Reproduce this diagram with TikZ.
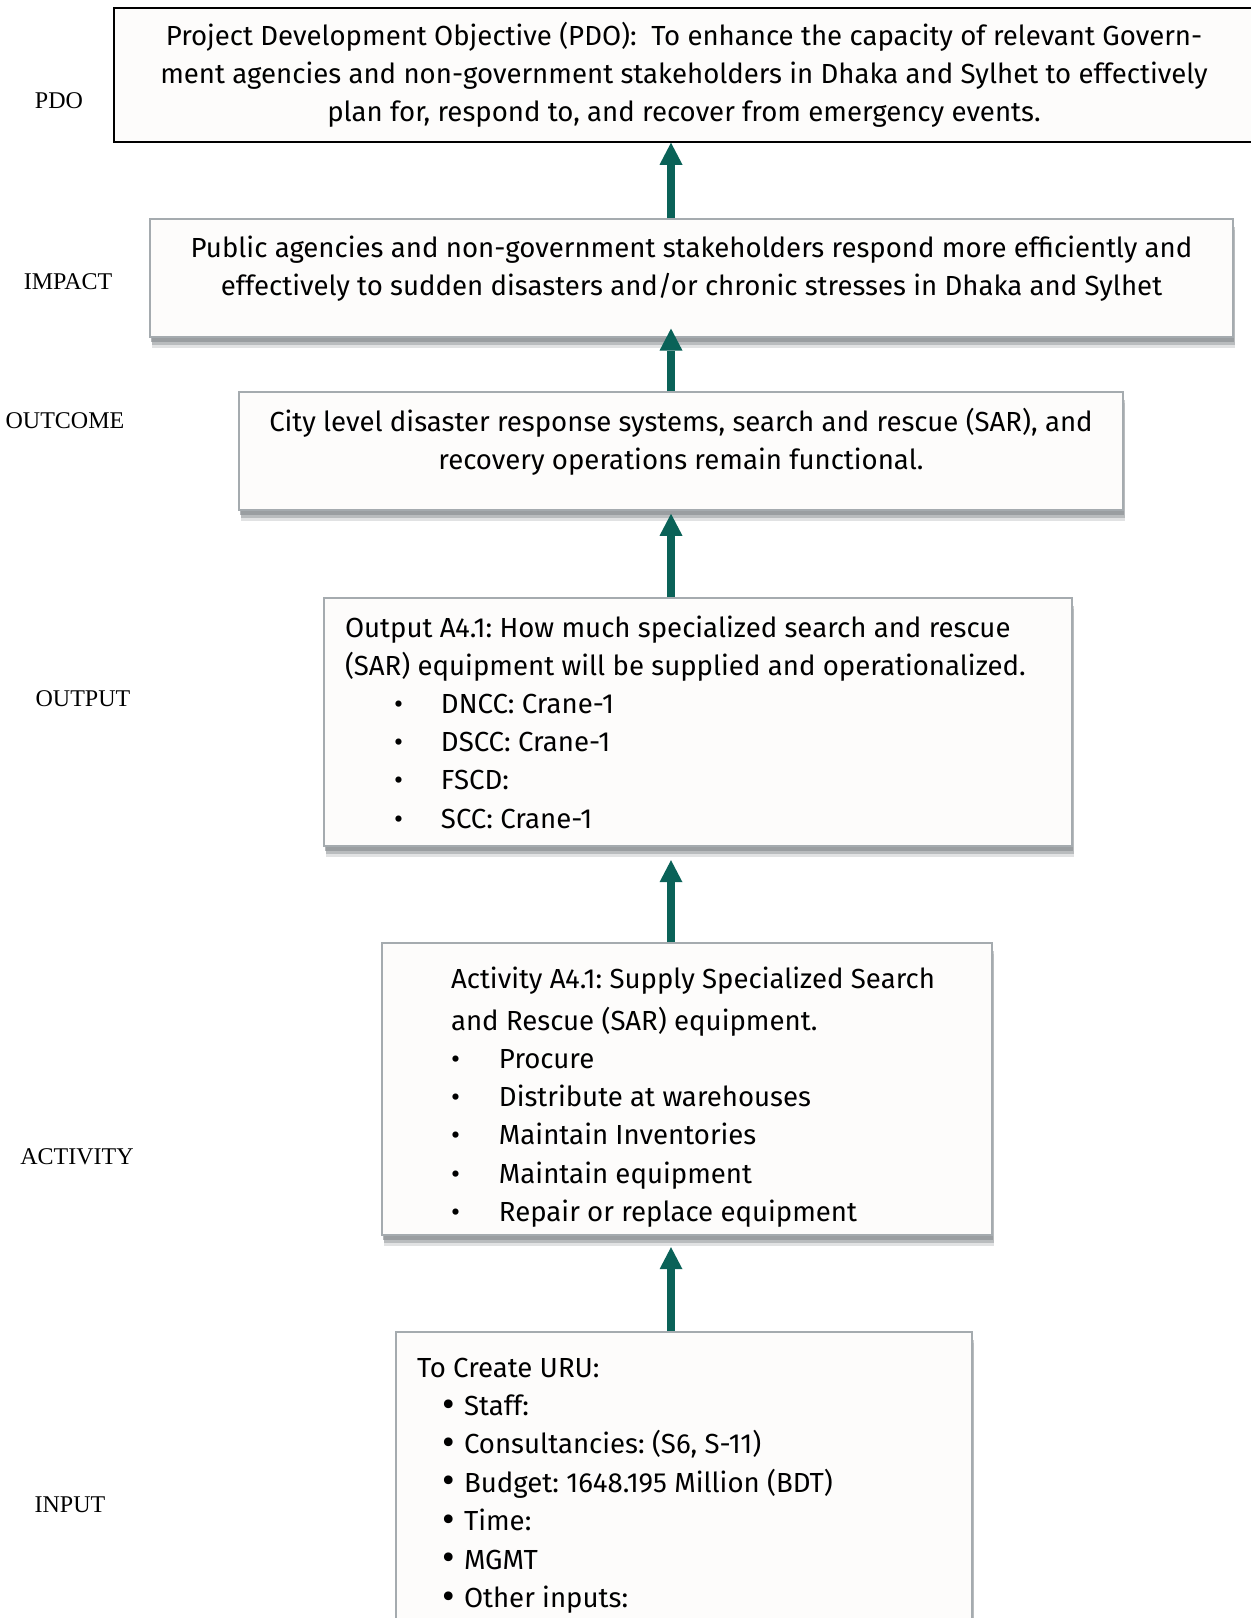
\documentclass[tikz,border=0pt]{standalone}
\usepackage{fontspec}
\usepackage{graphicx}
\setmainfont{Fira Sans}
\newfontfamily\labelfont{Liberation Serif}
\usetikzlibrary{arrows.meta, shadows}
\definecolor{lfteal}{HTML}{0A6258}
\definecolor{lfgray}{HTML}{A5ABAF}
\definecolor{lffill}{HTML}{FDFCFB}
\definecolor{lfshadow}{HTML}{8A8E92}
\newcommand{\lfitem}[4][\textbullet]{\hspace*{#2}\makebox[#3][l]{#1}#4}
\newcommand{\lfdot}{\raisebox{-0.8pt}{\scalebox{1.4}{\textbullet}}}
\frenchspacing

\begin{document}
\begin{tikzpicture}[
  x=0.5pt, y=-0.5pt,
  every node/.style={font=\fontsize{13.8}{19.1}\selectfont},
  pdobox/.style={rectangle, draw=black, line width=0.75pt, fill=lffill, inner sep=0pt},
  lfbox/.style={rectangle, draw=lfgray, line width=0.8pt, fill=lffill,
    drop shadow={shadow xshift=1.2pt, shadow yshift=-5.5pt, fill=lfshadow, opacity=0.25},
    drop shadow={shadow xshift=1pt, shadow yshift=-4pt, fill=lfshadow, opacity=0.45},
    drop shadow={shadow xshift=0.6pt, shadow yshift=-2.5pt, fill=lfshadow, opacity=0.65}},
  levellabel/.style={font=\labelfont\fontsize{12}{14}\selectfont},
  uparrow/.style={draw=lfteal, line width=4pt, line cap=butt, -{Triangle[width=11.5pt, length=11pt, line width=0pt]}},
]
\useasboundingbox (0,0) rectangle (1251,1618);
\fill[white] (0,0) rectangle (1251,1618);

\node[pdobox, minimum width=570pt, minimum height=67pt, align=center] (pdo) at (684,75) {Project Development Objective (PDO):~ To enhance the capacity of relevant Govern-\\ment agencies and non-government stakeholders in Dhaka and Sylhet to effectively\\plan for, respond to, and recover from emergency events.};
\node[lfbox, minimum width=541.5pt, minimum height=59pt, text width=521.5pt, inner xsep=10pt, align=flush center] (impact) at (691.5,278) {Public agencies and non-government stakeholders respond more efficiently and\\effectively to sudden disasters and/or chronic stresses in Dhaka and Sylhet\\[-6.8pt]\mbox{}};
\node[lfbox, minimum width=442pt, minimum height=59pt, text width=422pt, inner xsep=10pt, align=flush center] (outcome) at (681,451) {City level disaster response systems, search and rescue (SAR), and\\recovery operations remain functional.\\[-6.8pt]\mbox{}};
\node[lfbox, minimum width=374pt, minimum height=124pt, text width=353pt, inner xsep=10.5pt, align=flush left] (output) at (698,722) {Output A4.1: How much specialized search and rescue\\(SAR) equipment will be supplied and operationalized.\\
\lfitem{24.5pt}{23.5pt}{DNCC: Crane-1}\\
\lfitem{24.5pt}{23.5pt}{DSCC: Crane-1}\\
\lfitem{24.5pt}{23.5pt}{FSCD:}\\
\lfitem{24.5pt}{23.5pt}{SCC: Crane-1}};
\node[lfbox, minimum width=305pt, minimum height=146pt, text width=236pt, inner xsep=34.5pt, align=flush left] (activity) at (687,1089) {\mbox{}\\[-0.5pt]\mbox{Activity A4.1: Supply Specialized Search}\\[2pt]and Rescue (SAR) equipment.\\
\lfitem{0pt}{24pt}{Procure}\\
\lfitem{0pt}{24pt}{Distribute at warehouses}\\
\lfitem{0pt}{24pt}{Maintain Inventories}\\
\lfitem{0pt}{24pt}{Maintain equipment}\\
\lfitem{0pt}{24pt}{Repair or replace equipment}};
\node[lfbox, anchor=north, minimum width=288pt, text width=267pt, inner xsep=10.5pt, inner ysep=13pt, align=flush left, font=\fontsize{13.8}{19.2}\selectfont] (input) at (684,1331) {To Create URU:\\
\lfitem[\lfdot]{12.5pt}{11pt}{Staff:}\\
\lfitem[\lfdot]{12.5pt}{11pt}{Consultancies: (S6, S-11)}\\
\lfitem[\lfdot]{12.5pt}{11pt}{Budget: 1648.195 Million (BDT)}\\
\lfitem[\lfdot]{12.5pt}{11pt}{Time:}\\
\lfitem[\lfdot]{12.5pt}{11pt}{MGMT}\\
\lfitem[\lfdot]{12.5pt}{11pt}{Other inputs:}\\[20pt]};

\node[levellabel] (lpdo) at (59,101) {PDO};
\node[levellabel] (limpact) at (68,282) {IMPACT};
\node[levellabel] (loutcome) at (65,421) {OUTCOME};
\node[levellabel] (loutput) at (83,699) {OUTPUT};
\node[levellabel] (lactivity) at (77,1157) {ACTIVITY};
\node[levellabel] (linput) at (70,1505) {INPUT};

\coordinate (spine) at (671,0);
\draw[uparrow] (impact.north -| spine) -- (pdo.south -| spine);
\draw[uparrow, shorten >=-4.6pt] (outcome.north -| spine) -- (impact.south -| spine);
\draw[uparrow, shorten >=1.5pt] (output.north -| spine) -- (outcome.south -| spine);
\draw[uparrow, shorten >=6.7pt] (activity.north -| spine) -- (output.south -| spine);
\draw[uparrow, shorten >=5.7pt] (input.north -| spine) -- (activity.south -| spine);
\end{tikzpicture}
\end{document}
